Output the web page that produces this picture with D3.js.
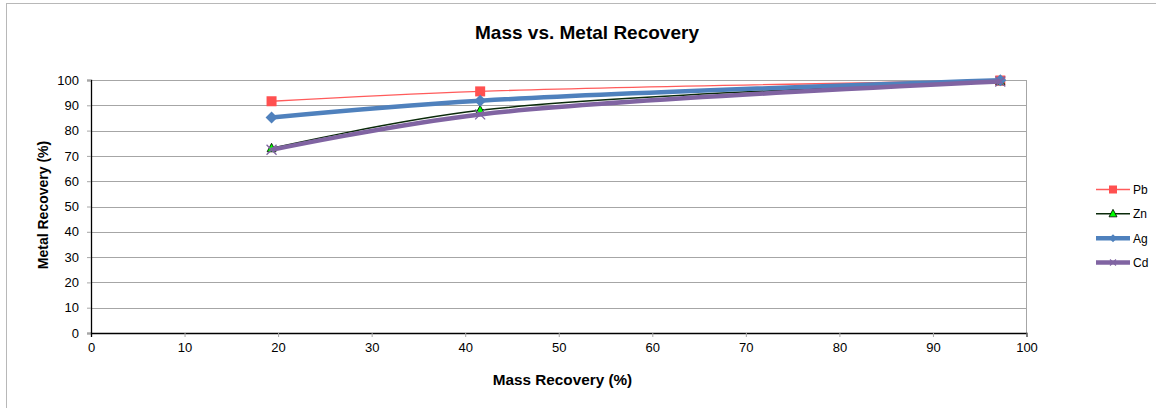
<!DOCTYPE html>
<html><head><meta charset="utf-8">
<script src="https://cdn.jsdelivr.net/npm/d3@7"></script>
<style>body{margin:0;background:#fff}svg{display:block;font-family:"Liberation Sans",Arial,sans-serif}</style>
</head><body><svg id="c" width="1156" height="408"></svg>
<script>
const massRecovery = [19.3, 41.6, 97.2];
const seriesNames = ["Pb", "Zn", "Ag", "Cd"];
const pbValues = [91.6, 95.5, 99.8];
const znValues = [73.0, 88.0, 99.5];
const agValues = [85.2, 91.8, 99.9];
const cdValues = [72.4, 86.4, 99.4];
const xTicks = [0,10,20,30,40,50,60,70,80,90,100];
const yTicks = [0,10,20,30,40,50,60,70,80,90,100];

const svg = d3.select("#c");
const L=91, R=1026.5, T=80, B=333;
const x = d3.scaleLinear().domain([0,100]).range([L,R]);
const y = d3.scaleLinear().domain([0,100]).range([B,T]);

svg.append("rect").attr("x",6.5).attr("y",3.5).attr("width",1160).attr("height",420)
  .attr("fill","#fff").attr("stroke","#b8b8b8");

// gridlines
svg.append("g").selectAll("line").data(yTicks.filter(d=>d>0)).join("line")
  .attr("x1",L).attr("x2",R).attr("y1",d=>Math.round(y(d))+0.5).attr("y2",d=>Math.round(y(d))+0.5)
  .attr("stroke","#a6a6a6").attr("stroke-width",1);
svg.append("line").attr("x1",R).attr("x2",R).attr("y1",T).attr("y2",B).attr("stroke","#a6a6a6");

// axes
const yAxis = d3.axisLeft(y).tickValues(yTicks).tickSize(4).tickPadding(8);
const gy = svg.append("g").attr("transform",`translate(${L},0)`).call(yAxis);
const xAxis = d3.axisBottom(x).tickValues(xTicks).tickSize(4).tickPadding(6);
const gx = svg.append("g").attr("transform",`translate(0,${B})`).call(xAxis);
[gy,gx].forEach(g=>{
  g.select(".domain").attr("stroke","#000").attr("stroke-width",1.3);
  g.selectAll(".tick line").attr("stroke","#a6a6a6");
  g.selectAll(".tick text").attr("font-size",13).attr("fill","#000").attr("font-family","Liberation Sans, Arial, sans-serif");
});
gx.selectAll(".tick line").filter(d=>d===0).attr("stroke","#000");

// titles
svg.append("text").attr("x",587).attr("y",39).attr("text-anchor","middle")
  .attr("font-size",19).attr("font-weight","bold").text("Mass vs. Metal Recovery");
svg.append("text").attr("x",562.5).attr("y",385).attr("text-anchor","middle")
  .attr("font-size",15.3).attr("font-weight","bold").text("Mass Recovery (%)");
svg.append("text").attr("transform","translate(48,205) rotate(-90)").attr("text-anchor","middle")
  .attr("font-size",14).attr("font-weight","bold").text("Metal Recovery (%)");

const styles = {
  Pb:{color:"#ff5b5b", width:1.3, marker:"square", fill:"#ff5050", stroke:"#ff5050"},
  Zn:{color:"#0a2a0a", width:1.5, marker:"triangle", fill:"#00ff00", stroke:"#000"},
  Ag:{color:"#4f81bd", width:4.5, marker:"diamond", fill:"#4f81bd", stroke:"#4f81bd"},
  Cd:{color:"#8064a2", width:4.5, marker:"x", fill:"none", stroke:"#8064a2"}
};
const allValues = {Pb:pbValues, Zn:znValues, Ag:agValues, Cd:cdValues};

const line = d3.line().x(d=>x(d[0])).y(d=>y(d[1])).curve(d3.curveCatmullRom.alpha(0.5));

function marker(g, type, cx, cy, s){
  if(type==="square"){
    g.append("rect").attr("x",cx-5).attr("y",cy-5).attr("width",10).attr("height",10).attr("fill",s.fill);
  } else if(type==="triangle"){
    g.append("path").attr("d",`M${cx},${cy-5}L${cx+4.5},${cy+3.5}L${cx-4.5},${cy+3.5}Z`)
      .attr("fill",s.fill).attr("stroke",s.stroke).attr("stroke-width",0.8);
  } else if(type==="diamond"){
    g.append("path").attr("d",`M${cx},${cy-6}L${cx+6},${cy}L${cx},${cy+6}L${cx-6},${cy}Z`).attr("fill",s.fill);
  } else {
    g.append("path").attr("d",`M${cx-5},${cy-5}L${cx+5},${cy+5}M${cx+5},${cy-5}L${cx-5},${cy+5}`)
      .attr("stroke",s.stroke).attr("stroke-width",1.3).attr("fill","none");
  }
}

const plot = svg.append("g");
seriesNames.forEach(n=>{
  const s = styles[n];
  const pts = massRecovery.map((m,i)=>[m, allValues[n][i]]);
  plot.append("path").datum(pts).attr("d",line).attr("fill","none")
    .attr("stroke",s.color).attr("stroke-width",s.width).attr("stroke-linejoin","round");
  const mg = plot.append("g");
  pts.forEach(p=>marker(mg, s.marker, x(p[0]), y(p[1]), s));
});

// legend
const legY = d3.scalePoint().domain(seriesNames).range([189.5,262.5]);
const lg = svg.append("g");
seriesNames.forEach(n=>{
  const s = styles[n]; const yy = legY(n);
  lg.append("line").attr("x1",1096).attr("x2",1130).attr("y1",yy).attr("y2",yy)
    .attr("stroke",s.color).attr("stroke-width",s.width);
  const g = lg.append("g");
  if(s.marker==="square") g.append("rect").attr("x",1109).attr("y",yy-4).attr("width",8).attr("height",8).attr("fill",s.fill);
  else if(s.marker==="triangle") g.append("path").attr("d",`M1113,${yy-4.5}L1117,${yy+3}L1109,${yy+3}Z`).attr("fill",s.fill).attr("stroke","#000").attr("stroke-width",0.8);
  else if(s.marker==="diamond") g.append("path").attr("d",`M1113,${yy-4}L1117,${yy}L1113,${yy+4}L1109,${yy}Z`).attr("fill",s.fill);
  else g.append("path").attr("d",`M1110,${yy-3}L1116,${yy+3}M1116,${yy-3}L1110,${yy+3}`).attr("stroke",s.stroke).attr("stroke-width",1.2);
  lg.append("text").attr("x",1133).attr("y",yy+4.5).attr("font-size",12).text(n);
});
</script></body></html>
